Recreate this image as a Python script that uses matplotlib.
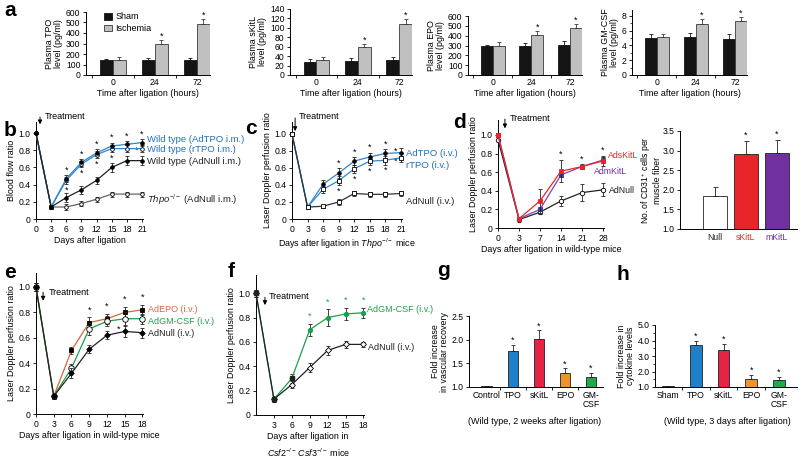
import matplotlib
matplotlib.use('Agg')
import matplotlib.pyplot as plt
import numpy as np

plt.rcParams['font.family'] = ['Liberation Sans', 'DejaVu Sans']
plt.rcParams['mathtext.fontset'] = 'custom'
plt.rcParams['mathtext.rm'] = 'Liberation Sans'
plt.rcParams['mathtext.it'] = 'Liberation Sans:italic'
plt.rcParams['axes.linewidth'] = 0.7
plt.rcParams['xtick.direction'] = 'out'
plt.rcParams['ytick.direction'] = 'out'
plt.rcParams['xtick.major.size'] = 2.5
plt.rcParams['ytick.major.size'] = 2.5
plt.rcParams['xtick.major.width'] = 0.6
plt.rcParams['ytick.major.width'] = 0.6
plt.rcParams['xtick.major.pad'] = 2
plt.rcParams['ytick.major.pad'] = 1.5
plt.rcParams['xtick.labelsize'] = 6.2
plt.rcParams['ytick.labelsize'] = 6.2
plt.rcParams['axes.labelsize'] = 6.4

# ---------------- data ----------------
hours = ['0', '24', '72']
tpo_sham = [140, 145, 145]
tpo_sham_err = [12, 20, 20]
tpo_isch = [145, 300, 490]
tpo_isch_err = [22, 35, 40]
skitl_sham = [28, 30, 31]
skitl_sham_err = [5, 6, 7]
skitl_isch = [32, 59, 109]
skitl_isch_err = [6, 7, 9]
epo_sham = [290, 300, 305]
epo_sham_err = [15, 30, 40]
epo_isch = [290, 405, 480]
epo_isch_err = [48, 45, 40]
gm_sham = [5.0, 5.2, 4.9]
gm_sham_err = [0.55, 0.5, 0.65]
gm_isch = [5.1, 6.9, 7.3]
gm_isch_err = [0.5, 0.65, 0.6]

b_days = [0, 3, 6, 9, 12, 15, 18, 21]
b_adtpo = [1.0, 0.14, 0.47, 0.66, 0.77, 0.85, 0.87, 0.89]
b_adtpo_err = [0, 0.02, 0.04, 0.04, 0.04, 0.04, 0.04, 0.04]
b_rtpo = [1.0, 0.14, 0.45, 0.64, 0.75, 0.82, 0.82, 0.82]
b_rtpo_err = [0, 0.02, 0.04, 0.04, 0.04, 0.04, 0.04, 0.04]
b_wt_null = [1.0, 0.14, 0.25, 0.34, 0.45, 0.60, 0.68, 0.68]
b_wt_null_err = [0, 0.02, 0.05, 0.05, 0.04, 0.05, 0.05, 0.05]
b_ko_null = [1.0, 0.14, 0.14, 0.18, 0.23, 0.29, 0.29, 0.29]
b_ko_null_err = [0, 0.02, 0.03, 0.03, 0.03, 0.03, 0.03, 0.03]

c_days = [0, 3, 6, 9, 12, 15, 18, 21]
c_adtpo = [1.0, 0.14, 0.41, 0.54, 0.68, 0.73, 0.77, 0.78]
c_adtpo_err = [0, 0.02, 0.05, 0.06, 0.05, 0.05, 0.05, 0.05]
c_rtpo = [1.0, 0.14, 0.35, 0.45, 0.59, 0.68, 0.69, 0.72]
c_rtpo_err = [0, 0.02, 0.04, 0.05, 0.05, 0.05, 0.05, 0.05]
c_null = [1.0, 0.14, 0.15, 0.20, 0.30, 0.29, 0.29, 0.30]
c_null_err = [0, 0.02, 0.02, 0.03, 0.03, 0.03, 0.03, 0.03]

d_days = ['0', '3', '7', '14', '21', '28']
d_skitl = [1.0, 0.10, 0.29, 0.61, 0.66, 0.72]
d_skitl_err = [0, 0.01, 0.13, 0.12, 0.02, 0.05]
d_mkitl = [1.0, 0.10, 0.20, 0.57, 0.66, 0.73]
d_mkitl_err = [0, 0.01, 0.02, 0.02, 0.03, 0.03]
d_null = [0.95, 0.09, 0.17, 0.29, 0.38, 0.41]
d_null_err = [0, 0.01, 0.02, 0.05, 0.09, 0.07]

cd31_groups = ['Null', 'sKitL', 'mKitL']
cd31_vals = [1.85, 2.92, 2.95]
cd31_err = [0.23, 0.33, 0.32]

e_days = [0, 3, 6, 9, 12, 15, 18]
e_epo = [1.0, 0.14, 0.50, 0.72, 0.75, 0.80, 0.82]
e_epo_err = [0.03, 0.02, 0.03, 0.04, 0.04, 0.04, 0.04]
e_gm = [1.0, 0.14, 0.36, 0.67, 0.73, 0.75, 0.75]
e_gm_err = [0.03, 0.02, 0.03, 0.05, 0.04, 0.05, 0.04]
e_null = [1.0, 0.14, 0.32, 0.51, 0.62, 0.65, 0.64]
e_null_err = [0.03, 0.02, 0.04, 0.03, 0.03, 0.04, 0.04]

f_days = [0, 3, 6, 9, 12, 15, 18]
f_gm = [1.0, 0.13, 0.30, 0.70, 0.80, 0.83, 0.84]
f_gm_err = [0.03, 0.02, 0.04, 0.05, 0.07, 0.05, 0.04]
f_null = [1.0, 0.13, 0.25, 0.39, 0.53, 0.58, 0.58]
f_null_err = [0.03, 0.02, 0.03, 0.04, 0.04, 0.03, 0.02]

g_groups = ['Control', 'TPO', 'sKitL', 'EPO', 'GM-\nCSF']
g_vals = [1.02, 1.76, 2.01, 1.30, 1.21]
g_err = [0.0, 0.13, 0.19, 0.10, 0.09]

h_groups = ['Sham', 'TPO', 'sKitL', 'EPO', 'GM-\nCSF']
h_vals = [1.05, 3.71, 3.39, 1.52, 1.45]
h_err = [0.0, 0.29, 0.38, 0.25, 0.22]

# ---------------- layout helpers ----------------
W, H = 800, 458
fig = plt.figure(figsize=(8, 4.58), dpi=100)

def px_axes(l, t, r, b):
    ax = fig.add_axes([l / W, 1 - b / H, (r - l) / W, (b - t) / H])
    ax.spines['top'].set_visible(False)
    ax.spines['right'].set_visible(False)
    return ax

def ftext(x, y, s, **kw):
    fig.text(x / W, 1 - y / H, s, **kw)

def star(ax, x, y, color='black', size=6.5):
    ax.text(x, y, '*', ha='center', va='center', fontsize=size, color=color, clip_on=False)

BLUE = '#2f86d0'
BLUE_T = '#1f6fbf'
RED = '#e8262a'
PURPLE = '#7030a0'
ORANGE = '#d2693c'
GREEN = '#1aa04a'
LBL = 6.8

# ---------------- panel a ----------------
a_specs = [
    ((86, 12, 210, 75), tpo_sham, tpo_sham_err, tpo_isch, tpo_isch_err, 600, 100, 'Plasma TPO\nlevel (pg/ml)'),
    ((290, 9, 412, 75), skitl_sham, skitl_sham_err, skitl_isch, skitl_isch_err, 140, 20, 'Plasma sKitL\nlevel (pg/ml)'),
    ((468, 16, 582, 75), epo_sham, epo_sham_err, epo_isch, epo_isch_err, 600, 100, 'Plasma EPO\nlevel (pg/ml)'),
    ((632, 10, 747, 75), gm_sham, gm_sham_err, gm_isch, gm_isch_err, 8.8, 2, 'Plasma GM-CSF\nlevel (pg/ml)'),
]
for i, (box, sham, sham_e, isch, isch_e, ymax, step, ylab) in enumerate(a_specs):
    ax = px_axes(*box)
    x = np.arange(len(hours))
    w = 0.31
    ax.bar(x - w / 2, sham, w, yerr=[[0] * 3, sham_e], color='#141414', edgecolor='#141414', linewidth=0.6,
           error_kw=dict(elinewidth=0.6, capsize=1.6, capthick=0.6, ecolor='#141414'), label='Sham')
    ax.bar(x + w / 2, isch, w, yerr=[[0] * 3, isch_e], color='#c0c0c0', edgecolor='#3a3a3a', linewidth=0.6,
           error_kw=dict(elinewidth=0.6, capsize=1.6, capthick=0.6, ecolor='#3a3a3a'), label='Ischemia')
    ax.set_xlim(-0.64, 2.31)
    ax.set_ylim(0, ymax)
    if ymax == 8.8:
        ax.set_yticks(np.arange(0, 9, 2))
        ax.set_yticklabels([str(int(v)) for v in np.arange(0, 9, 2)])
        ax.set_yticks(np.arange(1, 8, 2), minor=True)
        ax.tick_params(axis='y', which='minor', length=1.5, width=0.5)
    else:
        ax.set_yticks(np.arange(0, ymax + 1e-9, step))
    ax.set_xticks(x)
    ax.set_xticklabels(hours)
    ax.tick_params(axis='x', length=0)
    ax.set_xticks([-0.5, 0.5, 1.5], minor=True)
    ax.tick_params(axis='x', which='minor', length=2.5, width=0.6)
    ax.set_xlabel('Time after ligation (hours)', labelpad=1.5)
    ax.set_ylabel(ylab, labelpad=2, linespacing=1.0)
    for k in (1, 2):
        star(ax, x[k] + w / 2, isch[k] + isch_e[k] + ymax * 0.06)
    if i == 0:
        ax.legend(loc='upper left', bbox_to_anchor=(0.12, 1.05), frameon=False, fontsize=6.5,
                  handlelength=0.8, handleheight=0.8, handletextpad=0.4, labelspacing=0.3, borderaxespad=0)

# ---------------- line helper ----------------
def series(ax, x, y, e, color, mfc, marker='o', ms=2.6, mec='black', lw=0.9, z=3):
    ax.errorbar(x, y, yerr=e, color=color, lw=lw, marker=marker, ms=ms, mfc=mfc, mec=mec, mew=0.6,
                ecolor='#222222', elinewidth=0.6, capsize=1.5, capthick=0.6, clip_on=False, zorder=z)

def yfmt(ax):
    ax.set_yticks(np.arange(0, 1.01, 0.2))
    ax.set_yticklabels(['0', '0.2', '0.4', '0.6', '0.8', '1.0'])

# ---------------- panel b ----------------
ax = px_axes(36, 122, 143, 219)
series(ax, b_days, b_rtpo, b_rtpo_err, BLUE, 'white', z=3)
series(ax, b_days, b_adtpo, b_adtpo_err, BLUE, 'black', z=3)
series(ax, b_days, b_ko_null, b_ko_null_err, '#666666', 'white', z=4)
series(ax, b_days, b_wt_null, b_wt_null_err, '#222222', 'black', z=5)
ax.set_xlim(0, 21.2)
ax.set_ylim(0, 1.13)
ax.set_xticks(b_days)
yfmt(ax)
ax.set_xlabel('Days after ligation', labelpad=1.5)
ax.set_ylabel('Blood flow ratio', labelpad=2)
for k in range(2, 8):
    star(ax, b_days[k], b_adtpo[k] + b_adtpo_err[k] + 0.06)
for k in (2, 3, 4, 5):
    star(ax, b_days[k], b_rtpo[k] - b_rtpo_err[k] - 0.07)
star(ax, 20.0, b_rtpo[7] - 0.02)
ax.annotate('', xy=(0.8, 1.07), xytext=(0.8, 1.22), annotation_clip=False,
            arrowprops=dict(arrowstyle='-|>', lw=0.7, color='black', mutation_scale=6))
ax.text(1.7, 1.19, 'Treatment', fontsize=6.5, va='center', clip_on=False)
ftext(147, 139, 'Wild type (AdTPO i.m.)', fontsize=LBL, color=BLUE_T, va='center')
ftext(147, 150, 'Wild type (rTPO i.m.)', fontsize=LBL, color=BLUE_T, va='center')
ftext(147, 161, 'Wild type (AdNull i.m.)', fontsize=LBL, color='#222222', va='center')
ftext(147, 200, '$\\it{Thpo}^{-/-}$ (AdNull i.m.)', fontsize=LBL, color='#222222', va='center')

# ---------------- panel c ----------------
ax = px_axes(292, 122, 402, 219)
series(ax, c_days, c_rtpo, c_rtpo_err, BLUE, 'white', marker='s', ms=2.6, z=3)
series(ax, c_days, c_adtpo, c_adtpo_err, BLUE, 'black', z=3)
series(ax, c_days, c_null, c_null_err, '#333333', 'white', marker='s', ms=2.4, z=5)
ax.set_xlim(0, 21.2)
ax.set_ylim(0, 1.14)
ax.set_xticks(c_days)
yfmt(ax)
ax.set_xlabel('Days after ligation in $\\it{Thpo}^{-/-}$ mice', labelpad=1.5)
ax.set_ylabel('Laser Doppler perfusion ratio', labelpad=2)
for k in range(3, 7):
    star(ax, c_days[k], c_adtpo[k] + c_adtpo_err[k] + 0.06)
star(ax, 20.0, c_adtpo[7] + 0.02)
for k in range(3, 7):
    star(ax, c_days[k], c_rtpo[k] - c_rtpo_err[k] - 0.07)
star(ax, 20.0, c_rtpo[7] - 0.04)
ax.annotate('', xy=(0.6, 1.0), xytext=(0.6, 1.22), annotation_clip=False,
            arrowprops=dict(arrowstyle='-|>', lw=0.7, color='black', mutation_scale=6))
ax.text(1.3, 1.2, 'Treatment', fontsize=6.5, va='center', clip_on=False)
ftext(406, 153, 'AdTPO (i.v.)', fontsize=LBL, color=BLUE_T, va='center')
ftext(406, 165, 'rTPO (i.v.)', fontsize=LBL, color=BLUE_T, va='center')
ftext(406, 202, 'AdNull (i.v.)', fontsize=LBL, color='#222222', va='center')

# ---------------- panel d (line) ----------------
ax = px_axes(498, 120, 604, 228)
xd = np.arange(len(d_days))
series(ax, xd, d_null, d_null_err, '#222222', 'white', ms=3.2)
series(ax, xd, d_mkitl, d_mkitl_err, '#7a45b0', '#3a3aa0', marker='s', ms=2.8, mec='#3a3aa0', z=4)
series(ax, xd, d_skitl, d_skitl_err, RED, RED, marker='s', ms=2.8, mec=RED, z=5)
ax.set_xlim(0, 5.05)
ax.set_ylim(0, 1.16)
ax.set_xticks(xd)
ax.set_xticklabels(d_days)
yfmt(ax)
ax.set_xlabel('Days after ligation in wild-type mice', labelpad=1.5)
ax.set_ylabel('Laser Doppler perfusion ratio', labelpad=2)
for k in range(3, 6):
    star(ax, xd[k], d_skitl[k] + d_skitl_err[k] + 0.06)
ax.annotate('', xy=(0.33, 1.04), xytext=(0.33, 1.2), annotation_clip=False,
            arrowprops=dict(arrowstyle='-|>', lw=0.7, color='black', mutation_scale=6))
ax.text(0.58, 1.18, 'Treatment', fontsize=6.5, va='center', clip_on=False)
ftext(608, 155, 'AdsKitL', fontsize=6.3, color=RED, va='center')
ftext(594, 171, 'AdmKitL', fontsize=6.3, color=PURPLE, va='center')
ftext(609, 191, 'AdNull', fontsize=6.3, color='#222222', va='center')

# ---------------- panel d (bars) ----------------
ax = px_axes(680, 131, 797, 229)
xb = np.arange(len(cd31_groups))
ax.bar(xb, np.array(cd31_vals) - 1.0, 0.77, bottom=1.0, yerr=[[0] * 3, cd31_err], color=['white', RED, PURPLE],
       edgecolor='#222222', linewidth=0.6,
       error_kw=dict(elinewidth=0.6, capsize=1.8, capthick=0.6, ecolor='#222222'))
ax.set_xlim(-1.13, 2.65)
ax.set_ylim(1.0, 3.5)
ax.set_yticks(np.arange(1.0, 3.51, 0.5))
ax.set_yticklabels(['1.0', '1.5', '2.0', '2.5', '3.0', '3.5'])
ax.set_xticks(xb)
ax.set_xticklabels(cd31_groups)
ax.tick_params(axis='x', length=0, pad=3)
for lbl, c in zip(ax.get_xticklabels(), ['#222222', RED, PURPLE]):
    lbl.set_color(c)
ax.set_ylabel('No. of CD31$^{+}$ cells per\nmuscle fiber', labelpad=0.5, linespacing=1.0, fontsize=6.2)
for k in (1, 2):
    star(ax, xb[k], cd31_vals[k] + cd31_err[k] + 0.14)

# ---------------- panel e ----------------
ax = px_axes(36, 273, 143, 414)
series(ax, e_days, e_epo, e_epo_err, ORANGE, 'black', marker='s', ms=3.2, z=3)
series(ax, e_days, e_gm, e_gm_err, GREEN, 'white', ms=4.0, z=4)
series(ax, e_days, e_null, e_null_err, '#222222', 'black', marker='D', ms=2.8, z=5)
ax.set_xlim(0, 18.1)
ax.set_ylim(0, 1.11)
ax.set_xticks(e_days)
yfmt(ax)
ax.set_xlabel('Days after ligation in wild-type mice', labelpad=1.5)
ax.set_ylabel('Laser Doppler perfusion ratio', labelpad=2)
for k in range(3, 7):
    star(ax, e_days[k], e_epo[k] + e_epo_err[k] + 0.06)
star(ax, 14.0, e_gm[5] - 0.08)
ax.annotate('', xy=(1.2, 0.87), xytext=(1.2, 0.98), annotation_clip=False,
            arrowprops=dict(arrowstyle='-|>', lw=0.7, color='black', mutation_scale=6))
ax.text(2.1, 0.96, 'Treatment', fontsize=6.5, va='center', clip_on=False)
ftext(148, 309, 'AdEPO (i.v.)', fontsize=6.5, color=ORANGE, va='center')
ftext(148, 321, 'AdGM-CSF (i.v.)', fontsize=6.5, color=GREEN, va='center')
ftext(148, 333, 'AdNull (i.v.)', fontsize=6.5, color='#222222', va='center')

# ---------------- panel f ----------------
ax = px_axes(256, 275, 364, 415)
series(ax, f_days, f_gm, f_gm_err, GREEN, GREEN, ms=3.2, mec=GREEN, z=3)
series(ax, f_days, f_null, f_null_err, '#222222', 'white', marker='D', ms=3.0, z=4)
ax.plot([f_days[0], f_days[1], f_days[2]], [f_null[0], f_null[1], f_gm[2]], ls='none', marker='s',
        ms=3.2, color='#222222', clip_on=False, zorder=5)
ax.set_xlim(0, 18.1)
ax.set_ylim(0, 1.15)
ax.set_xticks(f_days[1:])
yfmt(ax)
ax.set_xlabel('Days after ligation in\n$\\it{Csf2}^{-/-}\\,\\it{Csf3}^{-/-}$ mice', labelpad=1.5,
              linespacing=1.5, ha='left', x=0.1)
ax.set_ylabel('Laser Doppler perfusion ratio', labelpad=2)
for k in range(3, 7):
    star(ax, f_days[k], f_gm[k] + f_gm_err[k] + 0.06, color=GREEN)
ax.annotate('', xy=(1.5, 0.88), xytext=(1.5, 0.99), annotation_clip=False,
            arrowprops=dict(arrowstyle='-|>', lw=0.7, color='black', mutation_scale=6))
ax.text(2.2, 0.97, 'Treatment', fontsize=6.5, va='center', clip_on=False)
ftext(367, 310, 'AdGM-CSF (i.v.)', fontsize=6.5, color=GREEN, va='center')
ftext(368, 347, 'AdNull (i.v.)', fontsize=6.5, color='#222222', va='center')

# ---------------- panel g ----------------
bar_cols = ['#333333', '#1f7fc8', '#e52345', '#f0922e', '#22a84a']
ax = px_axes(469, 316, 603, 387)
xg = np.arange(len(g_groups))
ax.bar(xg, np.array(g_vals) - 1.0, 0.42, bottom=1.0, yerr=[[0] * 5, g_err], color=bar_cols,
       edgecolor='#222222', linewidth=0.6,
       error_kw=dict(elinewidth=0.6, capsize=1.6, capthick=0.6, ecolor='#222222'))
ax.set_xlim(-0.69, 4.46)
ax.set_ylim(1.0, 2.5)
ax.set_yticks([1.0, 1.5, 2.0, 2.5])
ax.set_yticklabels(['1.0', '1.5', '2.0', '2.5'])
ax.set_xticks(xg)
ax.set_xticklabels(g_groups, linespacing=1.0, va='top')
ax.tick_params(axis='x', length=0, pad=3)
ax.set_xticks(xg[:-1] + 0.5, minor=True)
ax.tick_params(axis='x', which='minor', length=2.5, width=0.6)
ax.set_ylabel('Fold increase\nin vascular recovery', labelpad=2, linespacing=1.0)
for k in range(1, 5):
    star(ax, xg[k], g_vals[k] + g_err[k] + 0.09)
ftext(535, 422, '(Wild type, 2 weeks after ligation)', fontsize=6.5, ha='center', va='center')

# ---------------- panel h ----------------
ax = px_axes(655, 325, 797, 387)
xh = np.arange(len(h_groups))
ax.bar(xh, np.array(h_vals) - 1.0, 0.43, bottom=1.0, yerr=[[0] * 5, h_err], color=bar_cols,
       edgecolor='#222222', linewidth=0.6,
       error_kw=dict(elinewidth=0.6, capsize=1.6, capthick=0.6, ecolor='#222222'))
ax.set_xlim(-0.47, 4.65)
ax.set_ylim(1.0, 5.0)
ax.set_yticks([1, 2, 3, 4, 5])
ax.set_yticklabels(['1.0', '2.0', '3.0', '4.0', '5.0'])
ax.set_yticks([1.5, 2.5, 3.5, 4.5], minor=True)
ax.tick_params(axis='y', which='minor', length=1.5, width=0.5)
ax.set_xticks(xh)
ax.set_xticklabels(h_groups, linespacing=1.0, va='top')
ax.tick_params(axis='x', length=0, pad=3)
ax.set_xticks(xh[:-1] + 0.5, minor=True)
ax.tick_params(axis='x', which='minor', length=2.5, width=0.6)
ax.set_ylabel('Fold increase in\ncytokine levels', labelpad=2, linespacing=1.0)
for k in range(1, 5):
    star(ax, xh[k], h_vals[k] + h_err[k] + 0.3)
ftext(727, 422, '(Wild type, 3 days after ligation)', fontsize=6.5, ha='center', va='center')

# ---------------- panel letters ----------------
for s, x, y in [('a', 4, 16), ('b', 4, 136), ('c', 245, 134), ('d', 453, 128),
                ('e', 4, 278), ('f', 228, 277), ('g', 437, 276), ('h', 617, 280)]:
    ftext(x, y, s, fontsize=15, fontweight='bold', va='baseline')

fig.savefig('out.png', dpi=100)
